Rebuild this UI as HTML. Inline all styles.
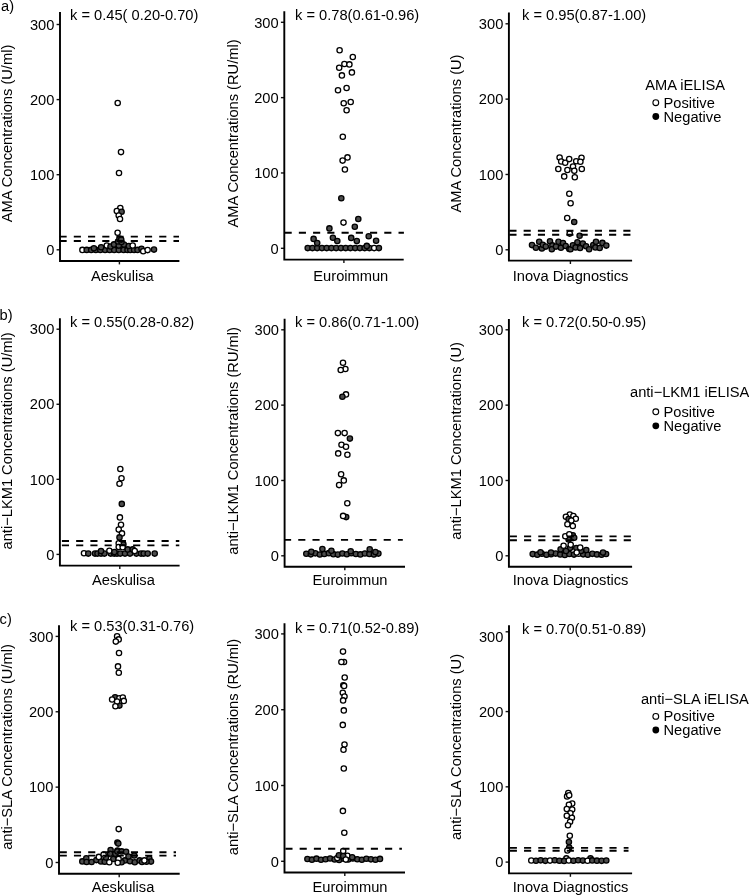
<!DOCTYPE html><html><head><meta charset="utf-8"><style>html,body{margin:0;padding:0;background:#fff;width:749px;height:895px;overflow:hidden}svg{display:block;will-change:transform}text{font-family:"Liberation Sans", sans-serif;font-size:14.67px;fill:#000}</style></head><body>
<svg width="749" height="895" viewBox="0 0 749 895">
<rect width="749" height="895" fill="#fff"/>
<text x="1" y="10.5">a)</text>
<line x1="56.6" y1="249.8" x2="60" y2="249.8" stroke="#111" stroke-width="1.4"/>
<text x="54.4" y="255" text-anchor="end">0</text>
<line x1="56.6" y1="174.7" x2="60" y2="174.7" stroke="#111" stroke-width="1.4"/>
<text x="54.4" y="179.9" text-anchor="end">100</text>
<line x1="56.6" y1="99.6" x2="60" y2="99.6" stroke="#111" stroke-width="1.4"/>
<text x="54.4" y="104.8" text-anchor="end">200</text>
<line x1="56.6" y1="24.5" x2="60" y2="24.5" stroke="#111" stroke-width="1.4"/>
<text x="54.4" y="29.7" text-anchor="end">300</text>
<circle cx="117.7" cy="103" r="2.65" fill="#fff" stroke="#000" stroke-width="1.3"/>
<circle cx="121" cy="152.1" r="2.65" fill="#fff" stroke="#000" stroke-width="1.3"/>
<circle cx="119" cy="173" r="2.65" fill="#fff" stroke="#000" stroke-width="1.3"/>
<circle cx="120.3" cy="208" r="2.65" fill="#fff" stroke="#000" stroke-width="1.3"/>
<circle cx="116.8" cy="211" r="2.65" fill="#fff" stroke="#000" stroke-width="1.3"/>
<circle cx="121.6" cy="211.8" r="2.65" fill="#4c4c4c" stroke="#000" stroke-width="1.3"/>
<circle cx="118.7" cy="215.5" r="2.65" fill="#fff" stroke="#000" stroke-width="1.3"/>
<circle cx="120" cy="219" r="2.65" fill="#fff" stroke="#000" stroke-width="1.3"/>
<circle cx="117.6" cy="232.8" r="2.65" fill="#fff" stroke="#000" stroke-width="1.3"/>
<circle cx="82.4" cy="249.9" r="2.65" fill="#fff" stroke="#000" stroke-width="1.3"/>
<circle cx="86.7" cy="249.9" r="2.65" fill="#4c4c4c" stroke="#000" stroke-width="1.3"/>
<circle cx="91.2" cy="249.9" r="2.65" fill="#4c4c4c" stroke="#000" stroke-width="1.3"/>
<circle cx="95.8" cy="249.9" r="2.65" fill="#4c4c4c" stroke="#000" stroke-width="1.3"/>
<circle cx="100.3" cy="249.9" r="2.65" fill="#4c4c4c" stroke="#000" stroke-width="1.3"/>
<circle cx="105.1" cy="249.9" r="2.65" fill="#4c4c4c" stroke="#000" stroke-width="1.3"/>
<circle cx="109.6" cy="249.9" r="2.65" fill="#4c4c4c" stroke="#000" stroke-width="1.3"/>
<circle cx="114.2" cy="249.9" r="2.65" fill="#4c4c4c" stroke="#000" stroke-width="1.3"/>
<circle cx="118.8" cy="249.9" r="2.65" fill="#4c4c4c" stroke="#000" stroke-width="1.3"/>
<circle cx="123.6" cy="249.9" r="2.65" fill="#4c4c4c" stroke="#000" stroke-width="1.3"/>
<circle cx="127.5" cy="249.9" r="2.65" fill="#4c4c4c" stroke="#000" stroke-width="1.3"/>
<circle cx="130.3" cy="249.9" r="2.65" fill="#4c4c4c" stroke="#000" stroke-width="1.3"/>
<circle cx="134.1" cy="249.9" r="2.65" fill="#4c4c4c" stroke="#000" stroke-width="1.3"/>
<circle cx="137.5" cy="249.9" r="2.65" fill="#4c4c4c" stroke="#000" stroke-width="1.3"/>
<circle cx="141.5" cy="248.7" r="2.65" fill="#4c4c4c" stroke="#000" stroke-width="1.3"/>
<circle cx="143.2" cy="251.3" r="2.65" fill="#fff" stroke="#000" stroke-width="1.3"/>
<circle cx="147.6" cy="250.1" r="2.65" fill="#fff" stroke="#000" stroke-width="1.3"/>
<circle cx="154" cy="249.6" r="2.65" fill="#4c4c4c" stroke="#000" stroke-width="1.3"/>
<circle cx="93.9" cy="248.3" r="2.65" fill="#4c4c4c" stroke="#000" stroke-width="1.3"/>
<circle cx="101.1" cy="247.2" r="2.65" fill="#4c4c4c" stroke="#000" stroke-width="1.3"/>
<circle cx="106.8" cy="245.6" r="2.65" fill="#fff" stroke="#000" stroke-width="1.3"/>
<circle cx="110.5" cy="246.5" r="2.65" fill="#4c4c4c" stroke="#000" stroke-width="1.3"/>
<circle cx="114" cy="244.4" r="2.65" fill="#4c4c4c" stroke="#000" stroke-width="1.3"/>
<circle cx="118.8" cy="245.6" r="2.65" fill="#4c4c4c" stroke="#000" stroke-width="1.3"/>
<circle cx="124" cy="244.6" r="2.65" fill="#4c4c4c" stroke="#000" stroke-width="1.3"/>
<circle cx="128.8" cy="246" r="2.65" fill="#4c4c4c" stroke="#000" stroke-width="1.3"/>
<circle cx="132.7" cy="245.5" r="2.65" fill="#fff" stroke="#000" stroke-width="1.3"/>
<circle cx="118" cy="241.5" r="2.65" fill="#4c4c4c" stroke="#000" stroke-width="1.3"/>
<circle cx="121.5" cy="242" r="2.65" fill="#4c4c4c" stroke="#000" stroke-width="1.3"/>
<circle cx="119.5" cy="238.5" r="2.65" fill="#4c4c4c" stroke="#000" stroke-width="1.3"/>
<circle cx="121.2" cy="239.6" r="2.65" fill="#4c4c4c" stroke="#000" stroke-width="1.3"/>
<line x1="59.1" y1="236.6" x2="179" y2="236.6" stroke="#000" stroke-width="1.9" stroke-dasharray="7.12 7.12" stroke-dashoffset="-0.45"/>
<line x1="59.1" y1="241" x2="179" y2="241" stroke="#000" stroke-width="1.9" stroke-dasharray="7.12 7.12" stroke-dashoffset="-0.45"/>
<path d="M60 12.05 V261 H179.4" fill="none" stroke="#000" stroke-width="1.9" stroke-linecap="butt" stroke-linejoin="miter"/>
<line x1="119.4" y1="261" x2="119.4" y2="264.4" stroke="#111" stroke-width="1.4"/>
<text x="122.3" y="280.5" text-anchor="middle">Aeskulisa</text>
<text transform="translate(11.8 133.5) rotate(-90)" text-anchor="middle">AMA Concentrations (U/ml)</text>
<text x="70" y="19.7">k = 0.45( 0.20-0.70)</text>
<line x1="280.9" y1="248.3" x2="284.3" y2="248.3" stroke="#111" stroke-width="1.4"/>
<text x="278.7" y="253.5" text-anchor="end">0</text>
<line x1="280.9" y1="172.97" x2="284.3" y2="172.97" stroke="#111" stroke-width="1.4"/>
<text x="278.7" y="178.17" text-anchor="end">100</text>
<line x1="280.9" y1="97.63" x2="284.3" y2="97.63" stroke="#111" stroke-width="1.4"/>
<text x="278.7" y="102.83" text-anchor="end">200</text>
<line x1="280.9" y1="22.3" x2="284.3" y2="22.3" stroke="#111" stroke-width="1.4"/>
<text x="278.7" y="27.5" text-anchor="end">300</text>
<circle cx="339.6" cy="50.3" r="2.65" fill="#fff" stroke="#000" stroke-width="1.3"/>
<circle cx="352.8" cy="57" r="2.65" fill="#fff" stroke="#000" stroke-width="1.3"/>
<circle cx="344.4" cy="64" r="2.65" fill="#fff" stroke="#000" stroke-width="1.3"/>
<circle cx="349.4" cy="64.4" r="2.65" fill="#fff" stroke="#000" stroke-width="1.3"/>
<circle cx="339.2" cy="67.7" r="2.65" fill="#fff" stroke="#000" stroke-width="1.3"/>
<circle cx="351.9" cy="72.4" r="2.65" fill="#fff" stroke="#000" stroke-width="1.3"/>
<circle cx="341.9" cy="75.4" r="2.65" fill="#fff" stroke="#000" stroke-width="1.3"/>
<circle cx="346.6" cy="88" r="2.65" fill="#fff" stroke="#000" stroke-width="1.3"/>
<circle cx="338" cy="90.2" r="2.65" fill="#fff" stroke="#000" stroke-width="1.3"/>
<circle cx="350.7" cy="102" r="2.65" fill="#fff" stroke="#000" stroke-width="1.3"/>
<circle cx="343.7" cy="103.2" r="2.65" fill="#fff" stroke="#000" stroke-width="1.3"/>
<circle cx="346.6" cy="110.2" r="2.65" fill="#fff" stroke="#000" stroke-width="1.3"/>
<circle cx="342.8" cy="136.8" r="2.65" fill="#fff" stroke="#000" stroke-width="1.3"/>
<circle cx="347.5" cy="157.4" r="2.65" fill="#fff" stroke="#000" stroke-width="1.3"/>
<circle cx="342.6" cy="160.6" r="2.65" fill="#fff" stroke="#000" stroke-width="1.3"/>
<circle cx="344.9" cy="169.5" r="2.65" fill="#fff" stroke="#000" stroke-width="1.3"/>
<circle cx="307.7" cy="248.1" r="2.65" fill="#4c4c4c" stroke="#000" stroke-width="1.3"/>
<circle cx="312.45" cy="248.1" r="2.65" fill="#4c4c4c" stroke="#000" stroke-width="1.3"/>
<circle cx="317.19" cy="248.1" r="2.65" fill="#4c4c4c" stroke="#000" stroke-width="1.3"/>
<circle cx="321.94" cy="248.1" r="2.65" fill="#4c4c4c" stroke="#000" stroke-width="1.3"/>
<circle cx="326.69" cy="248.1" r="2.65" fill="#4c4c4c" stroke="#000" stroke-width="1.3"/>
<circle cx="331.43" cy="248.1" r="2.65" fill="#4c4c4c" stroke="#000" stroke-width="1.3"/>
<circle cx="336.18" cy="248.1" r="2.65" fill="#4c4c4c" stroke="#000" stroke-width="1.3"/>
<circle cx="340.93" cy="248.1" r="2.65" fill="#4c4c4c" stroke="#000" stroke-width="1.3"/>
<circle cx="345.67" cy="248.1" r="2.65" fill="#4c4c4c" stroke="#000" stroke-width="1.3"/>
<circle cx="350.42" cy="248.1" r="2.65" fill="#4c4c4c" stroke="#000" stroke-width="1.3"/>
<circle cx="355.17" cy="248.1" r="2.65" fill="#4c4c4c" stroke="#000" stroke-width="1.3"/>
<circle cx="359.91" cy="248.1" r="2.65" fill="#4c4c4c" stroke="#000" stroke-width="1.3"/>
<circle cx="364.66" cy="248.1" r="2.65" fill="#4c4c4c" stroke="#000" stroke-width="1.3"/>
<circle cx="369.41" cy="248.1" r="2.65" fill="#4c4c4c" stroke="#000" stroke-width="1.3"/>
<circle cx="374.15" cy="248.1" r="2.65" fill="#fff" stroke="#000" stroke-width="1.3"/>
<circle cx="378.9" cy="248.1" r="2.65" fill="#4c4c4c" stroke="#000" stroke-width="1.3"/>
<circle cx="341.3" cy="198.3" r="2.65" fill="#4c4c4c" stroke="#000" stroke-width="1.3"/>
<circle cx="329.4" cy="228.4" r="2.65" fill="#4c4c4c" stroke="#000" stroke-width="1.3"/>
<circle cx="358.3" cy="219" r="2.65" fill="#4c4c4c" stroke="#000" stroke-width="1.3"/>
<circle cx="354.8" cy="226.8" r="2.65" fill="#4c4c4c" stroke="#000" stroke-width="1.3"/>
<circle cx="313.6" cy="238.9" r="2.65" fill="#4c4c4c" stroke="#000" stroke-width="1.3"/>
<circle cx="317.2" cy="243.1" r="2.65" fill="#4c4c4c" stroke="#000" stroke-width="1.3"/>
<circle cx="332.9" cy="237.8" r="2.65" fill="#4c4c4c" stroke="#000" stroke-width="1.3"/>
<circle cx="337.3" cy="241" r="2.65" fill="#4c4c4c" stroke="#000" stroke-width="1.3"/>
<circle cx="351.2" cy="237.9" r="2.65" fill="#4c4c4c" stroke="#000" stroke-width="1.3"/>
<circle cx="356.8" cy="241.1" r="2.65" fill="#4c4c4c" stroke="#000" stroke-width="1.3"/>
<circle cx="368.7" cy="236.3" r="2.65" fill="#4c4c4c" stroke="#000" stroke-width="1.3"/>
<circle cx="376.1" cy="240.7" r="2.65" fill="#4c4c4c" stroke="#000" stroke-width="1.3"/>
<circle cx="366.8" cy="245.9" r="2.65" fill="#4c4c4c" stroke="#000" stroke-width="1.3"/>
<circle cx="343.5" cy="222.6" r="2.65" fill="#fff" stroke="#000" stroke-width="1.3"/>
<line x1="283.4" y1="232.8" x2="403.9" y2="232.8" stroke="#000" stroke-width="1.9" stroke-dasharray="7.12 7.12" stroke-dashoffset="-1.2"/>
<path d="M284.3 11.2 V259.6 H403.7" fill="none" stroke="#000" stroke-width="1.9" stroke-linecap="butt" stroke-linejoin="miter"/>
<line x1="343.9" y1="259.6" x2="343.9" y2="263" stroke="#111" stroke-width="1.4"/>
<text x="350.8" y="280.5" text-anchor="middle">Euroimmun</text>
<text transform="translate(237.9 133.5) rotate(-90)" text-anchor="middle">AMA Concentrations (RU/ml)</text>
<text x="295" y="19.7">k = 0.78(0.61-0.96)</text>
<line x1="505.5" y1="249.8" x2="508.9" y2="249.8" stroke="#111" stroke-width="1.4"/>
<text x="503.3" y="255" text-anchor="end">0</text>
<line x1="505.5" y1="174.47" x2="508.9" y2="174.47" stroke="#111" stroke-width="1.4"/>
<text x="503.3" y="179.67" text-anchor="end">100</text>
<line x1="505.5" y1="99.13" x2="508.9" y2="99.13" stroke="#111" stroke-width="1.4"/>
<text x="503.3" y="104.33" text-anchor="end">200</text>
<line x1="505.5" y1="23.8" x2="508.9" y2="23.8" stroke="#111" stroke-width="1.4"/>
<text x="503.3" y="29" text-anchor="end">300</text>
<circle cx="559.6" cy="157.5" r="2.65" fill="#fff" stroke="#000" stroke-width="1.3"/>
<circle cx="561.2" cy="161.5" r="2.65" fill="#fff" stroke="#000" stroke-width="1.3"/>
<circle cx="565.2" cy="162.8" r="2.65" fill="#fff" stroke="#000" stroke-width="1.3"/>
<circle cx="569.2" cy="159.1" r="2.65" fill="#fff" stroke="#000" stroke-width="1.3"/>
<circle cx="576.2" cy="161.2" r="2.65" fill="#fff" stroke="#000" stroke-width="1.3"/>
<circle cx="581.5" cy="157.7" r="2.65" fill="#fff" stroke="#000" stroke-width="1.3"/>
<circle cx="580.4" cy="161.8" r="2.65" fill="#fff" stroke="#000" stroke-width="1.3"/>
<circle cx="573" cy="166.6" r="2.65" fill="#fff" stroke="#000" stroke-width="1.3"/>
<circle cx="558.3" cy="169" r="2.65" fill="#fff" stroke="#000" stroke-width="1.3"/>
<circle cx="567.4" cy="170" r="2.65" fill="#fff" stroke="#000" stroke-width="1.3"/>
<circle cx="574.3" cy="170.8" r="2.65" fill="#fff" stroke="#000" stroke-width="1.3"/>
<circle cx="581.8" cy="169" r="2.65" fill="#fff" stroke="#000" stroke-width="1.3"/>
<circle cx="564.2" cy="176.4" r="2.65" fill="#fff" stroke="#000" stroke-width="1.3"/>
<circle cx="574.8" cy="177.2" r="2.65" fill="#fff" stroke="#000" stroke-width="1.3"/>
<circle cx="569.3" cy="193.7" r="2.65" fill="#fff" stroke="#000" stroke-width="1.3"/>
<circle cx="570.6" cy="203.2" r="2.65" fill="#fff" stroke="#000" stroke-width="1.3"/>
<circle cx="567.2" cy="218" r="2.65" fill="#fff" stroke="#000" stroke-width="1.3"/>
<circle cx="569.7" cy="233.6" r="2.65" fill="#fff" stroke="#000" stroke-width="1.3"/>
<circle cx="574.2" cy="222" r="2.65" fill="#4c4c4c" stroke="#000" stroke-width="1.3"/>
<circle cx="579.6" cy="235.7" r="2.65" fill="#4c4c4c" stroke="#000" stroke-width="1.3"/>
<circle cx="532" cy="245.1" r="2.65" fill="#4c4c4c" stroke="#000" stroke-width="1.3"/>
<circle cx="535.9" cy="247.8" r="2.65" fill="#4c4c4c" stroke="#000" stroke-width="1.3"/>
<circle cx="539.2" cy="241.8" r="2.65" fill="#4c4c4c" stroke="#000" stroke-width="1.3"/>
<circle cx="541.9" cy="248.4" r="2.65" fill="#4c4c4c" stroke="#000" stroke-width="1.3"/>
<circle cx="542.8" cy="244.8" r="2.65" fill="#4c4c4c" stroke="#000" stroke-width="1.3"/>
<circle cx="545.8" cy="246.6" r="2.65" fill="#4c4c4c" stroke="#000" stroke-width="1.3"/>
<circle cx="550" cy="241.2" r="2.65" fill="#4c4c4c" stroke="#000" stroke-width="1.3"/>
<circle cx="552.4" cy="245.4" r="2.65" fill="#4c4c4c" stroke="#000" stroke-width="1.3"/>
<circle cx="551.8" cy="249.3" r="2.65" fill="#4c4c4c" stroke="#000" stroke-width="1.3"/>
<circle cx="556" cy="246.6" r="2.65" fill="#4c4c4c" stroke="#000" stroke-width="1.3"/>
<circle cx="558.5" cy="241.8" r="2.65" fill="#4c4c4c" stroke="#000" stroke-width="1.3"/>
<circle cx="560.9" cy="247.8" r="2.65" fill="#4c4c4c" stroke="#000" stroke-width="1.3"/>
<circle cx="563" cy="243" r="2.65" fill="#4c4c4c" stroke="#000" stroke-width="1.3"/>
<circle cx="565.7" cy="246" r="2.65" fill="#4c4c4c" stroke="#000" stroke-width="1.3"/>
<circle cx="569.3" cy="249" r="2.65" fill="#4c4c4c" stroke="#000" stroke-width="1.3"/>
<circle cx="570.5" cy="249.2" r="2.65" fill="#4c4c4c" stroke="#000" stroke-width="1.3"/>
<circle cx="572.9" cy="245.3" r="2.65" fill="#4c4c4c" stroke="#000" stroke-width="1.3"/>
<circle cx="577.4" cy="242.3" r="2.65" fill="#4c4c4c" stroke="#000" stroke-width="1.3"/>
<circle cx="575.6" cy="247.4" r="2.65" fill="#4c4c4c" stroke="#000" stroke-width="1.3"/>
<circle cx="580.1" cy="248" r="2.65" fill="#4c4c4c" stroke="#000" stroke-width="1.3"/>
<circle cx="582.8" cy="243.5" r="2.65" fill="#4c4c4c" stroke="#000" stroke-width="1.3"/>
<circle cx="586.1" cy="246.2" r="2.65" fill="#4c4c4c" stroke="#000" stroke-width="1.3"/>
<circle cx="589.1" cy="249.2" r="2.65" fill="#4c4c4c" stroke="#000" stroke-width="1.3"/>
<circle cx="593.3" cy="245" r="2.65" fill="#4c4c4c" stroke="#000" stroke-width="1.3"/>
<circle cx="596" cy="241.7" r="2.65" fill="#4c4c4c" stroke="#000" stroke-width="1.3"/>
<circle cx="595.4" cy="247.4" r="2.65" fill="#4c4c4c" stroke="#000" stroke-width="1.3"/>
<circle cx="599.7" cy="248" r="2.65" fill="#4c4c4c" stroke="#000" stroke-width="1.3"/>
<circle cx="602.4" cy="242.9" r="2.65" fill="#4c4c4c" stroke="#000" stroke-width="1.3"/>
<circle cx="606.3" cy="245.6" r="2.65" fill="#4c4c4c" stroke="#000" stroke-width="1.3"/>
<line x1="508" y1="230.7" x2="632.1" y2="230.7" stroke="#000" stroke-width="1.9" stroke-dasharray="7.12 7.12" stroke-dashoffset="-1.4"/>
<line x1="508" y1="234.7" x2="632.1" y2="234.7" stroke="#000" stroke-width="1.9" stroke-dasharray="7.12 7.12" stroke-dashoffset="-1.4"/>
<path d="M508.9 12.4 V260.6 H632.1" fill="none" stroke="#000" stroke-width="1.9" stroke-linecap="butt" stroke-linejoin="miter"/>
<line x1="570.4" y1="260.6" x2="570.4" y2="264" stroke="#111" stroke-width="1.4"/>
<text x="570.6" y="280.5" text-anchor="middle">Inova Diagnostics</text>
<text transform="translate(460.8 133.5) rotate(-90)" text-anchor="middle">AMA Concentrations (U)</text>
<text x="522" y="19.7">k = 0.95(0.87-1.00)</text>
<text x="645.2" y="89.6">AMA iELISA</text>
<circle cx="655.8" cy="102.7" r="2.9" fill="#fff" stroke="#000" stroke-width="1.1"/>
<circle cx="655.8" cy="116.5" r="3.4" fill="#000"/>
<text x="663.5" y="107.8">Positive</text>
<text x="663.5" y="122">Negative</text>
<text x="-0.4" y="319.7">b)</text>
<line x1="56.5" y1="554.4" x2="59.9" y2="554.4" stroke="#111" stroke-width="1.4"/>
<text x="54.3" y="559.6" text-anchor="end">0</text>
<line x1="56.5" y1="479.33" x2="59.9" y2="479.33" stroke="#111" stroke-width="1.4"/>
<text x="54.3" y="484.53" text-anchor="end">100</text>
<line x1="56.5" y1="404.27" x2="59.9" y2="404.27" stroke="#111" stroke-width="1.4"/>
<text x="54.3" y="409.47" text-anchor="end">200</text>
<line x1="56.5" y1="329.2" x2="59.9" y2="329.2" stroke="#111" stroke-width="1.4"/>
<text x="54.3" y="334.4" text-anchor="end">300</text>
<circle cx="120.3" cy="469" r="2.65" fill="#fff" stroke="#000" stroke-width="1.3"/>
<circle cx="121.5" cy="478.2" r="2.65" fill="#fff" stroke="#000" stroke-width="1.3"/>
<circle cx="119.5" cy="483.8" r="2.65" fill="#fff" stroke="#000" stroke-width="1.3"/>
<circle cx="119.9" cy="517.4" r="2.65" fill="#fff" stroke="#000" stroke-width="1.3"/>
<circle cx="121" cy="524.8" r="2.65" fill="#fff" stroke="#000" stroke-width="1.3"/>
<circle cx="118.7" cy="529.6" r="2.65" fill="#fff" stroke="#000" stroke-width="1.3"/>
<circle cx="122" cy="533.4" r="2.65" fill="#fff" stroke="#000" stroke-width="1.3"/>
<circle cx="121.8" cy="503.9" r="2.65" fill="#4c4c4c" stroke="#000" stroke-width="1.3"/>
<circle cx="119.5" cy="537.4" r="2.65" fill="#4c4c4c" stroke="#000" stroke-width="1.3"/>
<circle cx="123.4" cy="544.4" r="2.65" fill="#4c4c4c" stroke="#000" stroke-width="1.3"/>
<circle cx="118.7" cy="543.2" r="2.65" fill="#fff" stroke="#000" stroke-width="1.3"/>
<circle cx="118.7" cy="547" r="2.65" fill="#fff" stroke="#000" stroke-width="1.3"/>
<circle cx="122.7" cy="547.2" r="2.65" fill="#fff" stroke="#000" stroke-width="1.3"/>
<circle cx="84" cy="553.2" r="2.65" fill="#fff" stroke="#000" stroke-width="1.3"/>
<circle cx="88.3" cy="553.6" r="2.65" fill="#4c4c4c" stroke="#000" stroke-width="1.3"/>
<circle cx="95" cy="553.6" r="2.65" fill="#4c4c4c" stroke="#000" stroke-width="1.3"/>
<circle cx="97.5" cy="553.6" r="2.65" fill="#4c4c4c" stroke="#000" stroke-width="1.3"/>
<circle cx="101" cy="553.6" r="2.65" fill="#4c4c4c" stroke="#000" stroke-width="1.3"/>
<circle cx="104.4" cy="553.6" r="2.65" fill="#4c4c4c" stroke="#000" stroke-width="1.3"/>
<circle cx="110.7" cy="553.6" r="2.65" fill="#4c4c4c" stroke="#000" stroke-width="1.3"/>
<circle cx="114.2" cy="553.6" r="2.65" fill="#4c4c4c" stroke="#000" stroke-width="1.3"/>
<circle cx="117" cy="553.6" r="2.65" fill="#4c4c4c" stroke="#000" stroke-width="1.3"/>
<circle cx="120.3" cy="553.6" r="2.65" fill="#4c4c4c" stroke="#000" stroke-width="1.3"/>
<circle cx="125" cy="553.6" r="2.65" fill="#4c4c4c" stroke="#000" stroke-width="1.3"/>
<circle cx="130" cy="553.6" r="2.65" fill="#4c4c4c" stroke="#000" stroke-width="1.3"/>
<circle cx="136.4" cy="553.6" r="2.65" fill="#4c4c4c" stroke="#000" stroke-width="1.3"/>
<circle cx="141" cy="553.6" r="2.65" fill="#4c4c4c" stroke="#000" stroke-width="1.3"/>
<circle cx="143.7" cy="553.6" r="2.65" fill="#4c4c4c" stroke="#000" stroke-width="1.3"/>
<circle cx="147.7" cy="553.6" r="2.65" fill="#4c4c4c" stroke="#000" stroke-width="1.3"/>
<circle cx="154.7" cy="553.6" r="2.65" fill="#4c4c4c" stroke="#000" stroke-width="1.3"/>
<circle cx="101" cy="551" r="2.65" fill="#4c4c4c" stroke="#000" stroke-width="1.3"/>
<circle cx="109.4" cy="550.7" r="2.65" fill="#fff" stroke="#000" stroke-width="1.3"/>
<circle cx="114.4" cy="552" r="2.65" fill="#4c4c4c" stroke="#000" stroke-width="1.3"/>
<circle cx="127.7" cy="549.4" r="2.65" fill="#4c4c4c" stroke="#000" stroke-width="1.3"/>
<circle cx="132.7" cy="549.4" r="2.65" fill="#4c4c4c" stroke="#000" stroke-width="1.3"/>
<circle cx="134.7" cy="551" r="2.65" fill="#fff" stroke="#000" stroke-width="1.3"/>
<line x1="59" y1="541" x2="179.3" y2="541" stroke="#000" stroke-width="1.9" stroke-dasharray="7.12 7.12" stroke-dashoffset="-2.9"/>
<line x1="59" y1="545.4" x2="179.3" y2="545.4" stroke="#000" stroke-width="1.9" stroke-dasharray="7.12 7.12" stroke-dashoffset="-2.9"/>
<path d="M59.9 318.2 V565.6 H179.6" fill="none" stroke="#000" stroke-width="1.9" stroke-linecap="butt" stroke-linejoin="miter"/>
<line x1="119.8" y1="565.6" x2="119.8" y2="569" stroke="#111" stroke-width="1.4"/>
<text x="123.45" y="585.4" text-anchor="middle">Aeskulisa</text>
<text transform="translate(11.8 440.9) rotate(-90)" text-anchor="middle">anti−LKM1 Concentrations (U/ml)</text>
<text x="70" y="326.6">k = 0.55(0.28-0.82)</text>
<line x1="281.2" y1="555.8" x2="284.6" y2="555.8" stroke="#111" stroke-width="1.4"/>
<text x="279" y="561" text-anchor="end">0</text>
<line x1="281.2" y1="480.47" x2="284.6" y2="480.47" stroke="#111" stroke-width="1.4"/>
<text x="279" y="485.67" text-anchor="end">100</text>
<line x1="281.2" y1="405.13" x2="284.6" y2="405.13" stroke="#111" stroke-width="1.4"/>
<text x="279" y="410.33" text-anchor="end">200</text>
<line x1="281.2" y1="329.8" x2="284.6" y2="329.8" stroke="#111" stroke-width="1.4"/>
<text x="279" y="335" text-anchor="end">300</text>
<circle cx="343" cy="362.7" r="2.65" fill="#fff" stroke="#000" stroke-width="1.3"/>
<circle cx="345.4" cy="369" r="2.65" fill="#fff" stroke="#000" stroke-width="1.3"/>
<circle cx="340.7" cy="370" r="2.65" fill="#fff" stroke="#000" stroke-width="1.3"/>
<circle cx="346" cy="394.4" r="2.65" fill="#fff" stroke="#000" stroke-width="1.3"/>
<circle cx="337.9" cy="433.1" r="2.65" fill="#fff" stroke="#000" stroke-width="1.3"/>
<circle cx="344.6" cy="433.1" r="2.65" fill="#fff" stroke="#000" stroke-width="1.3"/>
<circle cx="341.5" cy="444.7" r="2.65" fill="#fff" stroke="#000" stroke-width="1.3"/>
<circle cx="346" cy="446.7" r="2.65" fill="#fff" stroke="#000" stroke-width="1.3"/>
<circle cx="338.2" cy="453.4" r="2.65" fill="#fff" stroke="#000" stroke-width="1.3"/>
<circle cx="347.4" cy="454.7" r="2.65" fill="#fff" stroke="#000" stroke-width="1.3"/>
<circle cx="341.1" cy="474.3" r="2.65" fill="#fff" stroke="#000" stroke-width="1.3"/>
<circle cx="343.8" cy="480.4" r="2.65" fill="#fff" stroke="#000" stroke-width="1.3"/>
<circle cx="339.1" cy="485.1" r="2.65" fill="#fff" stroke="#000" stroke-width="1.3"/>
<circle cx="347.3" cy="503.2" r="2.65" fill="#fff" stroke="#000" stroke-width="1.3"/>
<circle cx="346.2" cy="517.1" r="2.65" fill="#4c4c4c" stroke="#000" stroke-width="1.3"/>
<circle cx="343.1" cy="515.9" r="2.65" fill="#fff" stroke="#000" stroke-width="1.3"/>
<circle cx="342.4" cy="396.7" r="2.65" fill="#4c4c4c" stroke="#000" stroke-width="1.3"/>
<circle cx="349.9" cy="438.6" r="2.65" fill="#4c4c4c" stroke="#000" stroke-width="1.3"/>
<circle cx="306.3" cy="553.7" r="2.65" fill="#4c4c4c" stroke="#000" stroke-width="1.3"/>
<circle cx="310.81" cy="554.33" r="2.65" fill="#4c4c4c" stroke="#000" stroke-width="1.3"/>
<circle cx="315.31" cy="553.34" r="2.65" fill="#4c4c4c" stroke="#000" stroke-width="1.3"/>
<circle cx="319.82" cy="554.51" r="2.65" fill="#4c4c4c" stroke="#000" stroke-width="1.3"/>
<circle cx="324.32" cy="553.88" r="2.65" fill="#4c4c4c" stroke="#000" stroke-width="1.3"/>
<circle cx="328.83" cy="553.16" r="2.65" fill="#4c4c4c" stroke="#000" stroke-width="1.3"/>
<circle cx="333.34" cy="554.15" r="2.65" fill="#4c4c4c" stroke="#000" stroke-width="1.3"/>
<circle cx="337.84" cy="554.6" r="2.65" fill="#4c4c4c" stroke="#000" stroke-width="1.3"/>
<circle cx="342.35" cy="553.52" r="2.65" fill="#4c4c4c" stroke="#000" stroke-width="1.3"/>
<circle cx="346.86" cy="554.24" r="2.65" fill="#4c4c4c" stroke="#000" stroke-width="1.3"/>
<circle cx="351.36" cy="553.25" r="2.65" fill="#4c4c4c" stroke="#000" stroke-width="1.3"/>
<circle cx="355.87" cy="553.97" r="2.65" fill="#4c4c4c" stroke="#000" stroke-width="1.3"/>
<circle cx="360.38" cy="554.42" r="2.65" fill="#4c4c4c" stroke="#000" stroke-width="1.3"/>
<circle cx="364.88" cy="553.43" r="2.65" fill="#4c4c4c" stroke="#000" stroke-width="1.3"/>
<circle cx="369.39" cy="554.06" r="2.65" fill="#4c4c4c" stroke="#000" stroke-width="1.3"/>
<circle cx="373.89" cy="554.51" r="2.65" fill="#4c4c4c" stroke="#000" stroke-width="1.3"/>
<circle cx="378.4" cy="553.61" r="2.65" fill="#4c4c4c" stroke="#000" stroke-width="1.3"/>
<circle cx="311.3" cy="551.7" r="2.65" fill="#4c4c4c" stroke="#000" stroke-width="1.3"/>
<circle cx="322.4" cy="549" r="2.65" fill="#4c4c4c" stroke="#000" stroke-width="1.3"/>
<circle cx="331.4" cy="550.7" r="2.65" fill="#4c4c4c" stroke="#000" stroke-width="1.3"/>
<circle cx="350.7" cy="551.3" r="2.65" fill="#4c4c4c" stroke="#000" stroke-width="1.3"/>
<circle cx="369.7" cy="549.3" r="2.65" fill="#4c4c4c" stroke="#000" stroke-width="1.3"/>
<circle cx="375.4" cy="552" r="2.65" fill="#4c4c4c" stroke="#000" stroke-width="1.3"/>
<line x1="283.7" y1="539.9" x2="402.8" y2="539.9" stroke="#000" stroke-width="1.9" stroke-dasharray="7.12 7.12" stroke-dashoffset="-0.3"/>
<path d="M284.6 318.8 V566.8 H405" fill="none" stroke="#000" stroke-width="1.9" stroke-linecap="butt" stroke-linejoin="miter"/>
<line x1="344.8" y1="566.8" x2="344.8" y2="570.2" stroke="#111" stroke-width="1.4"/>
<text x="350" y="585.4" text-anchor="middle">Euroimmun</text>
<text transform="translate(237.9 440.9) rotate(-90)" text-anchor="middle">anti−LKM1 Concentrations (RU/ml)</text>
<text x="295" y="326.6">k = 0.86(0.71-1.00)</text>
<line x1="505.5" y1="555.8" x2="508.9" y2="555.8" stroke="#111" stroke-width="1.4"/>
<text x="503.3" y="561" text-anchor="end">0</text>
<line x1="505.5" y1="480.47" x2="508.9" y2="480.47" stroke="#111" stroke-width="1.4"/>
<text x="503.3" y="485.67" text-anchor="end">100</text>
<line x1="505.5" y1="405.13" x2="508.9" y2="405.13" stroke="#111" stroke-width="1.4"/>
<text x="503.3" y="410.33" text-anchor="end">200</text>
<line x1="505.5" y1="329.8" x2="508.9" y2="329.8" stroke="#111" stroke-width="1.4"/>
<text x="503.3" y="335" text-anchor="end">300</text>
<circle cx="569.8" cy="514.6" r="2.65" fill="#fff" stroke="#000" stroke-width="1.3"/>
<circle cx="565.9" cy="516.7" r="2.65" fill="#fff" stroke="#000" stroke-width="1.3"/>
<circle cx="573.4" cy="516.1" r="2.65" fill="#fff" stroke="#000" stroke-width="1.3"/>
<circle cx="575.8" cy="518.8" r="2.65" fill="#fff" stroke="#000" stroke-width="1.3"/>
<circle cx="568.6" cy="519.1" r="2.65" fill="#4c4c4c" stroke="#000" stroke-width="1.3"/>
<circle cx="571.3" cy="520.6" r="2.65" fill="#fff" stroke="#000" stroke-width="1.3"/>
<circle cx="567.4" cy="524.2" r="2.65" fill="#fff" stroke="#000" stroke-width="1.3"/>
<circle cx="572.8" cy="526" r="2.65" fill="#fff" stroke="#000" stroke-width="1.3"/>
<circle cx="532.7" cy="554.1" r="2.65" fill="#4c4c4c" stroke="#000" stroke-width="1.3"/>
<circle cx="537.29" cy="554.66" r="2.65" fill="#4c4c4c" stroke="#000" stroke-width="1.3"/>
<circle cx="541.88" cy="553.78" r="2.65" fill="#4c4c4c" stroke="#000" stroke-width="1.3"/>
<circle cx="546.46" cy="554.82" r="2.65" fill="#4c4c4c" stroke="#000" stroke-width="1.3"/>
<circle cx="551.05" cy="554.26" r="2.65" fill="#4c4c4c" stroke="#000" stroke-width="1.3"/>
<circle cx="555.64" cy="553.62" r="2.65" fill="#4c4c4c" stroke="#000" stroke-width="1.3"/>
<circle cx="560.23" cy="554.5" r="2.65" fill="#4c4c4c" stroke="#000" stroke-width="1.3"/>
<circle cx="564.81" cy="554.9" r="2.65" fill="#4c4c4c" stroke="#000" stroke-width="1.3"/>
<circle cx="569.4" cy="553.94" r="2.65" fill="#4c4c4c" stroke="#000" stroke-width="1.3"/>
<circle cx="573.99" cy="554.58" r="2.65" fill="#4c4c4c" stroke="#000" stroke-width="1.3"/>
<circle cx="578.58" cy="553.7" r="2.65" fill="#fff" stroke="#000" stroke-width="1.3"/>
<circle cx="583.16" cy="554.34" r="2.65" fill="#4c4c4c" stroke="#000" stroke-width="1.3"/>
<circle cx="587.75" cy="554.74" r="2.65" fill="#4c4c4c" stroke="#000" stroke-width="1.3"/>
<circle cx="592.34" cy="553.86" r="2.65" fill="#4c4c4c" stroke="#000" stroke-width="1.3"/>
<circle cx="596.93" cy="554.42" r="2.65" fill="#4c4c4c" stroke="#000" stroke-width="1.3"/>
<circle cx="601.51" cy="554.82" r="2.65" fill="#4c4c4c" stroke="#000" stroke-width="1.3"/>
<circle cx="606.1" cy="554.02" r="2.65" fill="#4c4c4c" stroke="#000" stroke-width="1.3"/>
<circle cx="560.6" cy="549.3" r="2.65" fill="#4c4c4c" stroke="#000" stroke-width="1.3"/>
<circle cx="570" cy="548.1" r="2.65" fill="#4c4c4c" stroke="#000" stroke-width="1.3"/>
<circle cx="576.3" cy="548.1" r="2.65" fill="#4c4c4c" stroke="#000" stroke-width="1.3"/>
<circle cx="586.3" cy="550" r="2.65" fill="#4c4c4c" stroke="#000" stroke-width="1.3"/>
<circle cx="566" cy="551" r="2.65" fill="#4c4c4c" stroke="#000" stroke-width="1.3"/>
<circle cx="581" cy="551" r="2.65" fill="#4c4c4c" stroke="#000" stroke-width="1.3"/>
<circle cx="551" cy="552.5" r="2.65" fill="#4c4c4c" stroke="#000" stroke-width="1.3"/>
<circle cx="540.5" cy="552.3" r="2.65" fill="#4c4c4c" stroke="#000" stroke-width="1.3"/>
<circle cx="603" cy="552.6" r="2.65" fill="#4c4c4c" stroke="#000" stroke-width="1.3"/>
<circle cx="563.6" cy="545.8" r="2.65" fill="#fff" stroke="#000" stroke-width="1.3"/>
<circle cx="570.7" cy="544.8" r="2.65" fill="#fff" stroke="#000" stroke-width="1.3"/>
<circle cx="580.2" cy="547.6" r="2.65" fill="#fff" stroke="#000" stroke-width="1.3"/>
<circle cx="576.7" cy="552.5" r="2.65" fill="#fff" stroke="#000" stroke-width="1.3"/>
<circle cx="572.8" cy="535.2" r="2.65" fill="#4c4c4c" stroke="#000" stroke-width="1.3"/>
<circle cx="574.2" cy="537.8" r="2.65" fill="#4c4c4c" stroke="#000" stroke-width="1.3"/>
<circle cx="568.6" cy="539.4" r="2.65" fill="#4c4c4c" stroke="#000" stroke-width="1.3"/>
<circle cx="565.3" cy="536.2" r="2.65" fill="#fff" stroke="#000" stroke-width="1.3"/>
<circle cx="569.3" cy="534.3" r="2.65" fill="#fff" stroke="#000" stroke-width="1.3"/>
<line x1="508" y1="536.4" x2="632.1" y2="536.4" stroke="#000" stroke-width="1.9" stroke-dasharray="7.12 7.12" stroke-dashoffset="-1.8"/>
<line x1="508" y1="540.3" x2="632.1" y2="540.3" stroke="#000" stroke-width="1.9" stroke-dasharray="7.12 7.12" stroke-dashoffset="-1.8"/>
<path d="M508.9 319 V566.8 H632.1" fill="none" stroke="#000" stroke-width="1.9" stroke-linecap="butt" stroke-linejoin="miter"/>
<line x1="570.2" y1="566.8" x2="570.2" y2="570.2" stroke="#111" stroke-width="1.4"/>
<text x="570.6" y="585.4" text-anchor="middle">Inova Diagnostics</text>
<text transform="translate(460.8 440.9) rotate(-90)" text-anchor="middle">anti−LKM1 Concentrations (U)</text>
<text x="522" y="326.6">k = 0.72(0.50-0.95)</text>
<text x="630" y="397.2">anti−LKM1 iELISA</text>
<circle cx="655.8" cy="411.8" r="2.9" fill="#fff" stroke="#000" stroke-width="1.1"/>
<circle cx="655.8" cy="425.8" r="3.4" fill="#000"/>
<text x="663.5" y="416.5">Positive</text>
<text x="663.5" y="430.5">Negative</text>
<text x="-0.4" y="624.3">c)</text>
<line x1="55.6" y1="862.5" x2="59" y2="862.5" stroke="#111" stroke-width="1.4"/>
<text x="53.4" y="867.7" text-anchor="end">0</text>
<line x1="55.6" y1="787.13" x2="59" y2="787.13" stroke="#111" stroke-width="1.4"/>
<text x="53.4" y="792.33" text-anchor="end">100</text>
<line x1="55.6" y1="711.77" x2="59" y2="711.77" stroke="#111" stroke-width="1.4"/>
<text x="53.4" y="716.97" text-anchor="end">200</text>
<line x1="55.6" y1="636.4" x2="59" y2="636.4" stroke="#111" stroke-width="1.4"/>
<text x="53.4" y="641.6" text-anchor="end">300</text>
<circle cx="115.1" cy="697.2" r="2.65" fill="#4c4c4c" stroke="#000" stroke-width="1.3"/>
<circle cx="119.4" cy="705.6" r="2.65" fill="#4c4c4c" stroke="#000" stroke-width="1.3"/>
<circle cx="117.1" cy="636.2" r="2.65" fill="#fff" stroke="#000" stroke-width="1.3"/>
<circle cx="118.7" cy="639.4" r="2.65" fill="#fff" stroke="#000" stroke-width="1.3"/>
<circle cx="115.8" cy="641.6" r="2.65" fill="#fff" stroke="#000" stroke-width="1.3"/>
<circle cx="119" cy="653" r="2.65" fill="#fff" stroke="#000" stroke-width="1.3"/>
<circle cx="118" cy="666.4" r="2.65" fill="#fff" stroke="#000" stroke-width="1.3"/>
<circle cx="118.8" cy="672.7" r="2.65" fill="#fff" stroke="#000" stroke-width="1.3"/>
<circle cx="112.1" cy="699.5" r="2.65" fill="#fff" stroke="#000" stroke-width="1.3"/>
<circle cx="119.4" cy="698.2" r="2.65" fill="#fff" stroke="#000" stroke-width="1.3"/>
<circle cx="122.8" cy="697.5" r="2.65" fill="#fff" stroke="#000" stroke-width="1.3"/>
<circle cx="123.8" cy="700.9" r="2.65" fill="#fff" stroke="#000" stroke-width="1.3"/>
<circle cx="117.1" cy="701.6" r="2.65" fill="#fff" stroke="#000" stroke-width="1.3"/>
<circle cx="115.4" cy="706.2" r="2.65" fill="#fff" stroke="#000" stroke-width="1.3"/>
<circle cx="118.7" cy="829.1" r="2.65" fill="#fff" stroke="#000" stroke-width="1.3"/>
<circle cx="117.4" cy="842.5" r="2.65" fill="#4c4c4c" stroke="#000" stroke-width="1.3"/>
<circle cx="118.3" cy="843.6" r="2.65" fill="#4c4c4c" stroke="#000" stroke-width="1.3"/>
<circle cx="82.3" cy="861.4" r="2.65" fill="#4c4c4c" stroke="#000" stroke-width="1.3"/>
<circle cx="86.3" cy="858.2" r="2.65" fill="#4c4c4c" stroke="#000" stroke-width="1.3"/>
<circle cx="86.6" cy="862" r="2.65" fill="#4c4c4c" stroke="#000" stroke-width="1.3"/>
<circle cx="91.6" cy="862" r="2.65" fill="#4c4c4c" stroke="#000" stroke-width="1.3"/>
<circle cx="96.4" cy="860.1" r="2.65" fill="#4c4c4c" stroke="#000" stroke-width="1.3"/>
<circle cx="101" cy="861.4" r="2.65" fill="#4c4c4c" stroke="#000" stroke-width="1.3"/>
<circle cx="104.7" cy="861.7" r="2.65" fill="#4c4c4c" stroke="#000" stroke-width="1.3"/>
<circle cx="110.6" cy="850" r="2.65" fill="#4c4c4c" stroke="#000" stroke-width="1.3"/>
<circle cx="110" cy="853.7" r="2.65" fill="#4c4c4c" stroke="#000" stroke-width="1.3"/>
<circle cx="113.3" cy="859" r="2.65" fill="#4c4c4c" stroke="#000" stroke-width="1.3"/>
<circle cx="115.4" cy="853.7" r="2.65" fill="#4c4c4c" stroke="#000" stroke-width="1.3"/>
<circle cx="117.5" cy="850.5" r="2.65" fill="#4c4c4c" stroke="#000" stroke-width="1.3"/>
<circle cx="117.4" cy="851.4" r="2.65" fill="#4c4c4c" stroke="#000" stroke-width="1.3"/>
<circle cx="121.6" cy="851.4" r="2.65" fill="#4c4c4c" stroke="#000" stroke-width="1.3"/>
<circle cx="126.1" cy="851.7" r="2.65" fill="#4c4c4c" stroke="#000" stroke-width="1.3"/>
<circle cx="124.9" cy="860.4" r="2.65" fill="#4c4c4c" stroke="#000" stroke-width="1.3"/>
<circle cx="121.6" cy="862.2" r="2.65" fill="#4c4c4c" stroke="#000" stroke-width="1.3"/>
<circle cx="130" cy="861.3" r="2.65" fill="#4c4c4c" stroke="#000" stroke-width="1.3"/>
<circle cx="134.2" cy="855.5" r="2.65" fill="#4c4c4c" stroke="#000" stroke-width="1.3"/>
<circle cx="134.8" cy="862.2" r="2.65" fill="#4c4c4c" stroke="#000" stroke-width="1.3"/>
<circle cx="139.6" cy="860.4" r="2.65" fill="#4c4c4c" stroke="#000" stroke-width="1.3"/>
<circle cx="149.3" cy="858.6" r="2.65" fill="#4c4c4c" stroke="#000" stroke-width="1.3"/>
<circle cx="151" cy="861.6" r="2.65" fill="#4c4c4c" stroke="#000" stroke-width="1.3"/>
<circle cx="106" cy="857.5" r="2.65" fill="#4c4c4c" stroke="#000" stroke-width="1.3"/>
<circle cx="128.5" cy="856.5" r="2.65" fill="#4c4c4c" stroke="#000" stroke-width="1.3"/>
<circle cx="142" cy="862" r="2.65" fill="#4c4c4c" stroke="#000" stroke-width="1.3"/>
<circle cx="146.5" cy="861.8" r="2.65" fill="#4c4c4c" stroke="#000" stroke-width="1.3"/>
<circle cx="98.8" cy="856.9" r="2.65" fill="#fff" stroke="#000" stroke-width="1.3"/>
<circle cx="103.6" cy="854.5" r="2.65" fill="#fff" stroke="#000" stroke-width="1.3"/>
<circle cx="109.3" cy="862.2" r="2.65" fill="#fff" stroke="#000" stroke-width="1.3"/>
<circle cx="118.6" cy="858.9" r="2.65" fill="#fff" stroke="#000" stroke-width="1.3"/>
<circle cx="117.7" cy="862.8" r="2.65" fill="#fff" stroke="#000" stroke-width="1.3"/>
<circle cx="144.4" cy="860.4" r="2.65" fill="#fff" stroke="#000" stroke-width="1.3"/>
<line x1="58.1" y1="852.3" x2="176" y2="852.3" stroke="#000" stroke-width="1.9" stroke-dasharray="7.12 7.12" stroke-dashoffset="-1.6"/>
<line x1="58.1" y1="855.6" x2="176" y2="855.6" stroke="#000" stroke-width="1.9" stroke-dasharray="7.12 7.12" stroke-dashoffset="-1.6"/>
<path d="M59 625.2 V873.8 H179.7" fill="none" stroke="#000" stroke-width="1.9" stroke-linecap="butt" stroke-linejoin="miter"/>
<line x1="119.2" y1="873.8" x2="119.2" y2="877.2" stroke="#111" stroke-width="1.4"/>
<text x="123" y="891.6" text-anchor="middle">Aeskulisa</text>
<text transform="translate(11.8 747) rotate(-90)" text-anchor="middle">anti−SLA Concentrations (U/ml)</text>
<text x="70" y="630.9">k = 0.53(0.31-0.76)</text>
<line x1="281.1" y1="861.3" x2="284.5" y2="861.3" stroke="#111" stroke-width="1.4"/>
<text x="278.9" y="866.5" text-anchor="end">0</text>
<line x1="281.1" y1="785.5" x2="284.5" y2="785.5" stroke="#111" stroke-width="1.4"/>
<text x="278.9" y="790.7" text-anchor="end">100</text>
<line x1="281.1" y1="709.7" x2="284.5" y2="709.7" stroke="#111" stroke-width="1.4"/>
<text x="278.9" y="714.9" text-anchor="end">200</text>
<line x1="281.1" y1="633.9" x2="284.5" y2="633.9" stroke="#111" stroke-width="1.4"/>
<text x="278.9" y="639.1" text-anchor="end">300</text>
<circle cx="343" cy="651.6" r="2.65" fill="#fff" stroke="#000" stroke-width="1.3"/>
<circle cx="344" cy="662" r="2.65" fill="#fff" stroke="#000" stroke-width="1.3"/>
<circle cx="341.4" cy="662" r="2.65" fill="#fff" stroke="#000" stroke-width="1.3"/>
<circle cx="344.7" cy="677.5" r="2.65" fill="#fff" stroke="#000" stroke-width="1.3"/>
<circle cx="343.3" cy="685.2" r="2.65" fill="#fff" stroke="#000" stroke-width="1.3"/>
<circle cx="344.1" cy="685.9" r="2.65" fill="#fff" stroke="#000" stroke-width="1.3"/>
<circle cx="342.8" cy="692.7" r="2.65" fill="#fff" stroke="#000" stroke-width="1.3"/>
<circle cx="344.5" cy="696.6" r="2.65" fill="#fff" stroke="#000" stroke-width="1.3"/>
<circle cx="343.1" cy="700.4" r="2.65" fill="#fff" stroke="#000" stroke-width="1.3"/>
<circle cx="343.8" cy="710.4" r="2.65" fill="#fff" stroke="#000" stroke-width="1.3"/>
<circle cx="342.8" cy="724.9" r="2.65" fill="#fff" stroke="#000" stroke-width="1.3"/>
<circle cx="344.5" cy="744.6" r="2.65" fill="#fff" stroke="#000" stroke-width="1.3"/>
<circle cx="343.5" cy="749.7" r="2.65" fill="#fff" stroke="#000" stroke-width="1.3"/>
<circle cx="343.8" cy="768.5" r="2.65" fill="#fff" stroke="#000" stroke-width="1.3"/>
<circle cx="342.9" cy="810.9" r="2.65" fill="#fff" stroke="#000" stroke-width="1.3"/>
<circle cx="344.3" cy="832.7" r="2.65" fill="#fff" stroke="#000" stroke-width="1.3"/>
<circle cx="307.4" cy="859" r="2.65" fill="#4c4c4c" stroke="#000" stroke-width="1.3"/>
<circle cx="311.94" cy="859.63" r="2.65" fill="#4c4c4c" stroke="#000" stroke-width="1.3"/>
<circle cx="316.47" cy="858.64" r="2.65" fill="#4c4c4c" stroke="#000" stroke-width="1.3"/>
<circle cx="321.01" cy="859.81" r="2.65" fill="#4c4c4c" stroke="#000" stroke-width="1.3"/>
<circle cx="325.55" cy="859.18" r="2.65" fill="#4c4c4c" stroke="#000" stroke-width="1.3"/>
<circle cx="330.09" cy="858.46" r="2.65" fill="#4c4c4c" stroke="#000" stroke-width="1.3"/>
<circle cx="334.62" cy="859.45" r="2.65" fill="#4c4c4c" stroke="#000" stroke-width="1.3"/>
<circle cx="339.16" cy="859.9" r="2.65" fill="#4c4c4c" stroke="#000" stroke-width="1.3"/>
<circle cx="343.7" cy="858.82" r="2.65" fill="#4c4c4c" stroke="#000" stroke-width="1.3"/>
<circle cx="348.24" cy="859.54" r="2.65" fill="#4c4c4c" stroke="#000" stroke-width="1.3"/>
<circle cx="352.77" cy="858.55" r="2.65" fill="#4c4c4c" stroke="#000" stroke-width="1.3"/>
<circle cx="357.31" cy="859.27" r="2.65" fill="#4c4c4c" stroke="#000" stroke-width="1.3"/>
<circle cx="361.85" cy="859.72" r="2.65" fill="#4c4c4c" stroke="#000" stroke-width="1.3"/>
<circle cx="366.39" cy="858.73" r="2.65" fill="#4c4c4c" stroke="#000" stroke-width="1.3"/>
<circle cx="370.93" cy="859.36" r="2.65" fill="#4c4c4c" stroke="#000" stroke-width="1.3"/>
<circle cx="375.46" cy="859.81" r="2.65" fill="#4c4c4c" stroke="#000" stroke-width="1.3"/>
<circle cx="380" cy="858.91" r="2.65" fill="#4c4c4c" stroke="#000" stroke-width="1.3"/>
<circle cx="343.2" cy="851" r="2.65" fill="#fff" stroke="#000" stroke-width="1.3"/>
<circle cx="337.3" cy="858" r="2.65" fill="#fff" stroke="#000" stroke-width="1.3"/>
<circle cx="347.4" cy="855.8" r="2.65" fill="#fff" stroke="#000" stroke-width="1.3"/>
<circle cx="338.9" cy="855.3" r="2.65" fill="#4c4c4c" stroke="#000" stroke-width="1.3"/>
<circle cx="343.2" cy="856.1" r="2.65" fill="#4c4c4c" stroke="#000" stroke-width="1.3"/>
<circle cx="352.2" cy="857.2" r="2.65" fill="#4c4c4c" stroke="#000" stroke-width="1.3"/>
<circle cx="345.8" cy="859.6" r="2.65" fill="#fff" stroke="#000" stroke-width="1.3"/>
<line x1="283.6" y1="848.8" x2="401.9" y2="848.8" stroke="#000" stroke-width="1.9" stroke-dasharray="7.12 7.12" stroke-dashoffset="-1.8"/>
<path d="M284.5 623.2 V872.5 H405" fill="none" stroke="#000" stroke-width="1.9" stroke-linecap="butt" stroke-linejoin="miter"/>
<line x1="344.8" y1="872.5" x2="344.8" y2="875.9" stroke="#111" stroke-width="1.4"/>
<text x="350" y="891.6" text-anchor="middle">Euroimmun</text>
<text transform="translate(237.9 747) rotate(-90)" text-anchor="middle">anti−SLA Concentrations (RU/ml)</text>
<text x="295" y="632.9">k = 0.71(0.52-0.89)</text>
<line x1="505.6" y1="862.1" x2="509" y2="862.1" stroke="#111" stroke-width="1.4"/>
<text x="503.4" y="867.3" text-anchor="end">0</text>
<line x1="505.6" y1="786.83" x2="509" y2="786.83" stroke="#111" stroke-width="1.4"/>
<text x="503.4" y="792.03" text-anchor="end">100</text>
<line x1="505.6" y1="711.57" x2="509" y2="711.57" stroke="#111" stroke-width="1.4"/>
<text x="503.4" y="716.77" text-anchor="end">200</text>
<line x1="505.6" y1="631.8" x2="509" y2="631.8" stroke="#111" stroke-width="1.4"/>
<text x="503.4" y="641.5" text-anchor="end">300</text>
<circle cx="568.3" cy="793.1" r="2.65" fill="#fff" stroke="#000" stroke-width="1.3"/>
<circle cx="567.1" cy="796.4" r="2.65" fill="#fff" stroke="#000" stroke-width="1.3"/>
<circle cx="569.2" cy="795.2" r="2.65" fill="#fff" stroke="#000" stroke-width="1.3"/>
<circle cx="572.2" cy="803.6" r="2.65" fill="#fff" stroke="#000" stroke-width="1.3"/>
<circle cx="568.9" cy="804.8" r="2.65" fill="#fff" stroke="#000" stroke-width="1.3"/>
<circle cx="566.8" cy="809" r="2.65" fill="#fff" stroke="#000" stroke-width="1.3"/>
<circle cx="572.2" cy="809.6" r="2.65" fill="#fff" stroke="#000" stroke-width="1.3"/>
<circle cx="570.4" cy="813.2" r="2.65" fill="#fff" stroke="#000" stroke-width="1.3"/>
<circle cx="566.8" cy="815.7" r="2.65" fill="#fff" stroke="#000" stroke-width="1.3"/>
<circle cx="571.9" cy="817.8" r="2.65" fill="#fff" stroke="#000" stroke-width="1.3"/>
<circle cx="570.1" cy="821.8" r="2.65" fill="#fff" stroke="#000" stroke-width="1.3"/>
<circle cx="568" cy="825.2" r="2.65" fill="#fff" stroke="#000" stroke-width="1.3"/>
<circle cx="569.8" cy="835.7" r="2.65" fill="#fff" stroke="#000" stroke-width="1.3"/>
<circle cx="568.9" cy="842" r="2.65" fill="#4c4c4c" stroke="#000" stroke-width="1.3"/>
<circle cx="569.2" cy="847.5" r="2.65" fill="#4c4c4c" stroke="#000" stroke-width="1.3"/>
<circle cx="567.4" cy="850.5" r="2.65" fill="#fff" stroke="#000" stroke-width="1.3"/>
<circle cx="590.5" cy="858.3" r="2.65" fill="#4c4c4c" stroke="#000" stroke-width="1.3"/>
<circle cx="566.4" cy="858.4" r="2.65" fill="#fff" stroke="#000" stroke-width="1.3"/>
<circle cx="531.3" cy="860.5" r="2.65" fill="#fff" stroke="#000" stroke-width="1.3"/>
<circle cx="535.99" cy="860.78" r="2.65" fill="#4c4c4c" stroke="#000" stroke-width="1.3"/>
<circle cx="540.67" cy="860.34" r="2.65" fill="#4c4c4c" stroke="#000" stroke-width="1.3"/>
<circle cx="545.36" cy="860.86" r="2.65" fill="#4c4c4c" stroke="#000" stroke-width="1.3"/>
<circle cx="550.05" cy="860.58" r="2.65" fill="#fff" stroke="#000" stroke-width="1.3"/>
<circle cx="554.74" cy="860.26" r="2.65" fill="#4c4c4c" stroke="#000" stroke-width="1.3"/>
<circle cx="559.42" cy="860.7" r="2.65" fill="#4c4c4c" stroke="#000" stroke-width="1.3"/>
<circle cx="564.11" cy="860.9" r="2.65" fill="#4c4c4c" stroke="#000" stroke-width="1.3"/>
<circle cx="568.8" cy="860.42" r="2.65" fill="#fff" stroke="#000" stroke-width="1.3"/>
<circle cx="573.49" cy="860.74" r="2.65" fill="#4c4c4c" stroke="#000" stroke-width="1.3"/>
<circle cx="578.17" cy="860.3" r="2.65" fill="#4c4c4c" stroke="#000" stroke-width="1.3"/>
<circle cx="582.86" cy="860.62" r="2.65" fill="#4c4c4c" stroke="#000" stroke-width="1.3"/>
<circle cx="587.55" cy="860.82" r="2.65" fill="#fff" stroke="#000" stroke-width="1.3"/>
<circle cx="592.24" cy="860.38" r="2.65" fill="#4c4c4c" stroke="#000" stroke-width="1.3"/>
<circle cx="596.92" cy="860.66" r="2.65" fill="#4c4c4c" stroke="#000" stroke-width="1.3"/>
<circle cx="601.61" cy="860.86" r="2.65" fill="#4c4c4c" stroke="#000" stroke-width="1.3"/>
<circle cx="606.3" cy="860.46" r="2.65" fill="#4c4c4c" stroke="#000" stroke-width="1.3"/>
<line x1="508.1" y1="847.9" x2="628.5" y2="847.9" stroke="#000" stroke-width="1.9" stroke-dasharray="7.12 7.12" stroke-dashoffset="-1.7"/>
<line x1="508.1" y1="850.8" x2="628.5" y2="850.8" stroke="#000" stroke-width="1.9" stroke-dasharray="7.12 7.12" stroke-dashoffset="-1.7"/>
<path d="M509 625.2 V873.4 H632.1" fill="none" stroke="#000" stroke-width="1.9" stroke-linecap="butt" stroke-linejoin="miter"/>
<line x1="570.4" y1="873.4" x2="570.4" y2="876.8" stroke="#111" stroke-width="1.4"/>
<text x="570.6" y="891.6" text-anchor="middle">Inova Diagnostics</text>
<text transform="translate(460.8 747) rotate(-90)" text-anchor="middle">anti−SLA Concentrations (U)</text>
<text x="522" y="633.6">k = 0.70(0.51-0.89)</text>
<text x="640.9" y="703.7">anti−SLA iELISA</text>
<circle cx="655.8" cy="716.4" r="2.9" fill="#fff" stroke="#000" stroke-width="1.1"/>
<circle cx="655.8" cy="730" r="3.4" fill="#000"/>
<text x="663.5" y="720.8">Positive</text>
<text x="663.5" y="734.6">Negative</text>
</svg></body></html>
